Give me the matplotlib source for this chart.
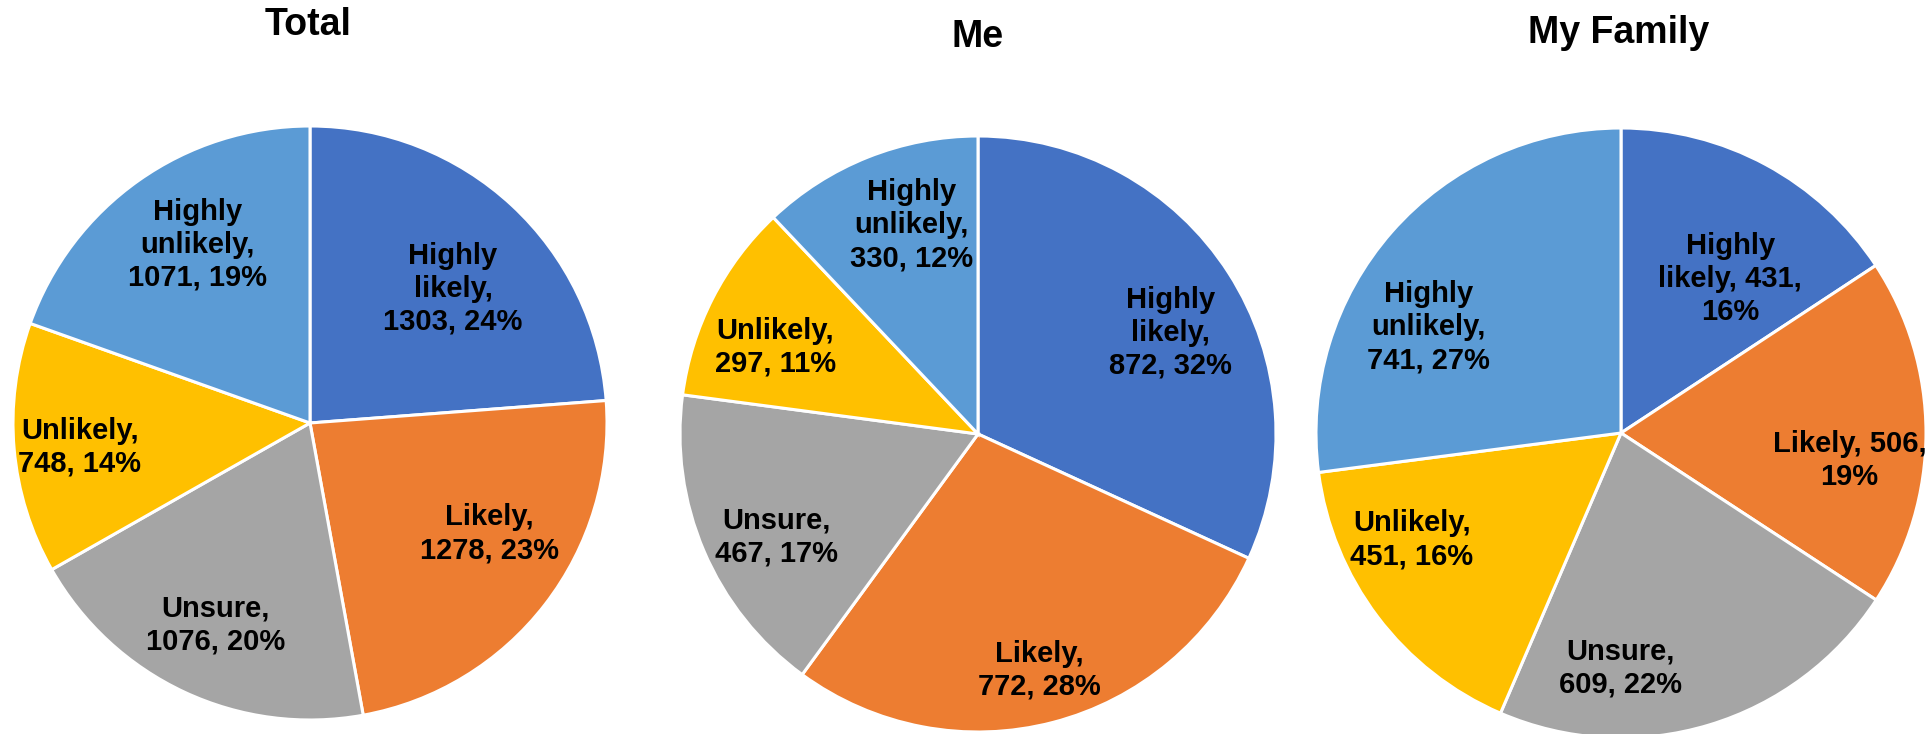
import numpy as np
import matplotlib
matplotlib.use("Agg")
import matplotlib.pyplot as plt

plt.rcParams['font.family'] = ['Liberation Sans', 'DejaVu Sans']

categories = ["Highly likely", "Likely", "Unsure", "Unlikely", "Highly unlikely"]
colors = ["#4472C4", "#ED7D31", "#A5A5A5", "#FFC000", "#5B9BD5"]

titles = ["Total", "Me", "My Family"]
total_vals = [1303, 1278, 1076, 748, 1071]
me_vals = [872, 772, 467, 297, 330]
family_vals = [431, 506, 609, 451, 741]

# how each data label wraps (Excel style)
total_fmt = ["Highly\nlikely,\n{v}, {p}%", "Likely,\n{v}, {p}%", "Unsure,\n{v}, {p}%",
             "Unlikely,\n{v}, {p}%", "Highly\nunlikely,\n{v}, {p}%"]
me_fmt = total_fmt
family_fmt = ["Highly\nlikely, {v},\n{p}%", "Likely, {v},\n{p}%", "Unsure,\n{v}, {p}%",
              "Unlikely,\n{v}, {p}%", "Highly\nunlikely,\n{v}, {p}%"]

# label radial distance (fraction of radius) and angle nudge (deg)
total_lr = [0.66, 0.71, 0.75, 0.78, 0.71]
total_nudge = [-4, 6, 0, 1, -3]
me_lr = [0.73, 0.82, 0.76, 0.74, 0.735]
me_nudge = [-5, 0, 4, 4, -4]
family_lr = [0.62, 0.755, 0.77, 0.77, 0.72]
family_nudge = [-7, -7, -17, -10, 12.5]

W, H = 1929, 734
# pie centres and radii in pixels
centres = [(310, 423), (978, 434), (1621, 433)]
radii = [297, 298, 305]
title_pos = [(308, 25), (978, 37), (1619, 33)]


def excel_pct(vals):
    # percentages that add up to 100 (largest remainder)
    raw = np.array(vals, dtype=float) / sum(vals) * 100
    fl = np.floor(raw).astype(int)
    rest = 100 - fl.sum()
    order = np.argsort(-(raw - fl))
    fl[order[:rest]] += 1
    return fl


fig = plt.figure(figsize=(W / 100, H / 100), dpi=100)

data = [(total_vals, total_fmt, total_lr, total_nudge),
        (me_vals, me_fmt, me_lr, me_nudge),
        (family_vals, family_fmt, family_lr, family_nudge)]

for i, (vals, fmts, lr, nudge) in enumerate(data):
    cx, cy = centres[i]
    r = radii[i]
    ax = fig.add_axes([(cx - r) / W, (H - cy - r) / H, 2 * r / W, 2 * r / H])
    wedges, _ = ax.pie(vals, colors=colors, startangle=90, counterclock=False,
                       radius=1, wedgeprops=dict(edgecolor="white", linewidth=2.2))
    ax.set_xlim(-1, 1)
    ax.set_ylim(-1, 1)
    ax.axis("off")
    pcts = excel_pct(vals)
    for j, w in enumerate(wedges):
        ang = np.deg2rad((w.theta1 + w.theta2) / 2 + nudge[j])
        ax.text(lr[j] * np.cos(ang), lr[j] * np.sin(ang), fmts[j].format(v=vals[j], p=pcts[j]),
                ha="center", va="center", fontsize=21, fontweight="bold",
                color="black", linespacing=1.22)
    tx, ty = title_pos[i]
    fig.text(tx / W, 1 - ty / H, titles[i], ha="center", va="center",
             fontsize=27, fontweight="bold")

fig.savefig("out.png", dpi=100)
